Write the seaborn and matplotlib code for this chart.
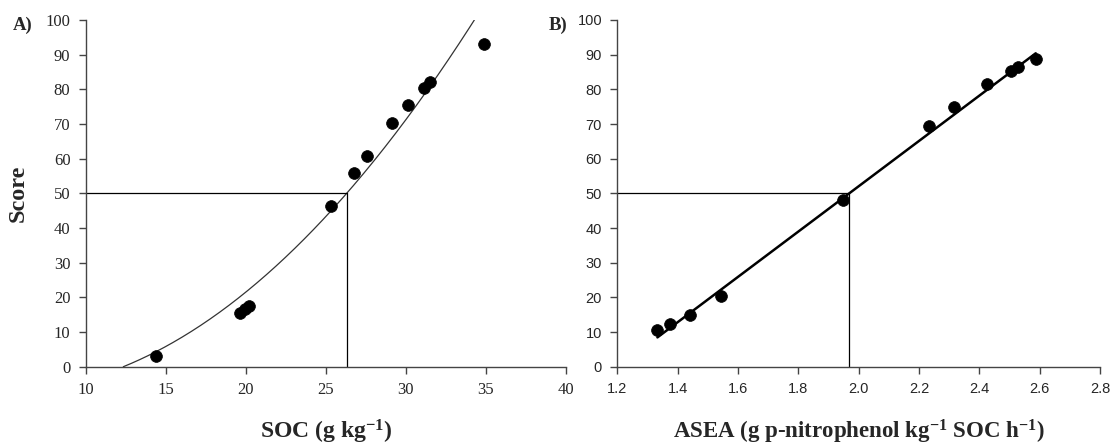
import numpy as np
import pandas as pd
import matplotlib
matplotlib.use("Agg")
import matplotlib.pyplot as plt
import seaborn as sns

# Panel A: soil organic carbon vs. score
soc = [14.39, 19.66, 19.93, 20.19, 25.31, 26.78, 27.58, 29.17, 30.17, 31.14, 31.54, 34.91]
soc_score = [3.0, 15.5, 16.5, 17.6, 46.4, 55.8, 60.9, 70.2, 75.6, 80.4, 82.2, 93.1]
# quadratic scoring curve: score = a*x^2 + b*x + c
soc_fit = [0.1223, -1.146, -4.51]
soc_fit_range = [12.35, 34.29]

# Panel B: ASEA vs. score
asea = [1.333, 1.376, 1.440, 1.545, 1.947, 2.233, 2.316, 2.425, 2.504, 2.527, 2.587]
asea_score = [10.7, 12.4, 15.0, 20.3, 48.1, 69.5, 75.0, 81.4, 85.2, 86.3, 88.7]
# linear scoring line: score = slope*x + intercept
asea_fit = [65.35, -78.66]
asea_fit_range = [1.333, 2.587]

threshold = 50

soc_ticks = [10, 15, 20, 25, 30, 35, 40]
asea_ticks = [1.2, 1.4, 1.6, 1.8, 2.0, 2.2, 2.4, 2.6, 2.8]
score_ticks = [0, 10, 20, 30, 40, 50, 60, 70, 80, 90, 100]

sns.set_theme(style="ticks")
plt.rcParams["font.family"] = ["Liberation Serif", "DejaVu Serif"]
plt.rcParams["mathtext.fontset"] = "custom"
plt.rcParams["mathtext.rm"] = "Liberation Serif:bold"
plt.rcParams["mathtext.it"] = "Liberation Serif:bold"
plt.rcParams["mathtext.bf"] = "Liberation Serif:bold"

fig = plt.figure(figsize=(11.10, 4.46), dpi=100)
W, H = 1110, 446
y_top, y_bot = 20, 366.7
ax_h = y_bot - y_top
axA = fig.add_axes([85.7 / W, 1 - y_bot / H, (565.7 - 85.7) / W, ax_h / H])
axB = fig.add_axes([617.3 / W, 1 - y_bot / H, (1100 - 617.3) / W, ax_h / H])

spine_col = "#444444"
for ax in (axA, axB):
    sns.despine(ax=ax)
    for s in ("left", "bottom"):
        ax.spines[s].set_color(spine_col)
        ax.spines[s].set_linewidth(1.0)
    ax.tick_params(axis="both", direction="out", length=5, width=1.0,
                   color=spine_col, pad=6)
    ax.set_ylim(0, 100)
    ax.set_yticks(score_ticks)

label_y = (y_bot - 418) / ax_h

# ---- Panel A
a, b, c = soc_fit
xs = np.linspace(soc_fit_range[0], soc_fit_range[1], 300)
curve = pd.DataFrame({"x": xs, "y": a * xs**2 + b * xs + c})
sns.lineplot(data=curve, x="x", y="y", ax=axA, color="#333333", linewidth=0.9)
sns.scatterplot(x=soc, y=soc_score, ax=axA, color="black", s=72, edgecolor="black",
                linewidth=0.5, zorder=3)
x50 = (-b + np.sqrt(b * b - 4 * a * (c - threshold))) / (2 * a)
axA.plot([soc_ticks[0], x50], [threshold, threshold], color="black", linewidth=0.9)
axA.plot([x50, x50], [0, threshold], color="black", linewidth=0.9)
axA.set_xlim(soc_ticks[0], soc_ticks[-1])
axA.set_xticks(soc_ticks)
axA.set_xticklabels([str(t) for t in soc_ticks], fontsize=12, family="Liberation Serif")
axA.set_yticklabels([str(t) for t in score_ticks], fontsize=12, family="Liberation Serif")
axA.set_xlabel(r"SOC (g kg$^{-1}$)", fontsize=17, fontweight="bold", va="top")
axA.xaxis.set_label_coords(0.5, label_y)
axA.set_ylabel("Score", fontsize=17.5, fontweight="bold", va="center")
axA.yaxis.set_label_coords(-(85.7 - 18) / 480, 0.5)
axA.text(-(85.7 - 13) / 480, 1 - 5 / ax_h, "A)", transform=axA.transAxes,
         fontsize=13.5, fontweight="bold", ha="left", va="center")

# ---- Panel B
slope, icpt = asea_fit
xl = np.linspace(asea_fit_range[0], asea_fit_range[1], 50)
line = pd.DataFrame({"x": xl, "y": slope * xl + icpt})
sns.lineplot(data=line, x="x", y="y", ax=axB, color="black", linewidth=1.8)
sns.scatterplot(x=asea, y=asea_score, ax=axB, color="black", s=72, edgecolor="black",
                linewidth=0.5, zorder=3)
xb50 = (threshold - icpt) / slope
axB.plot([asea_ticks[0], xb50], [threshold, threshold], color="black", linewidth=0.9)
axB.plot([xb50, xb50], [0, threshold], color="black", linewidth=0.9)
axB.set_xlim(asea_ticks[0], asea_ticks[-1])
axB.set_xticks(asea_ticks)
axB.set_xticklabels([f"{t:.1f}" for t in asea_ticks], fontsize=10.5, family="Liberation Sans")
axB.set_yticklabels([str(t) for t in score_ticks], fontsize=10.5, family="Liberation Sans")
axB.set_xlabel(r"ASEA (g p-nitrophenol kg$^{-1}$ SOC h$^{-1}$)", fontsize=16.5,
               fontweight="bold", va="top")
axB.xaxis.set_label_coords(0.5, label_y)
axB.set_ylabel("")
axB.text(-(617.3 - 549) / 482.7, 1 - 5 / ax_h, "B)", transform=axB.transAxes,
         fontsize=13.5, fontweight="bold", ha="left", va="center")

fig.savefig("out.png", dpi=100)
